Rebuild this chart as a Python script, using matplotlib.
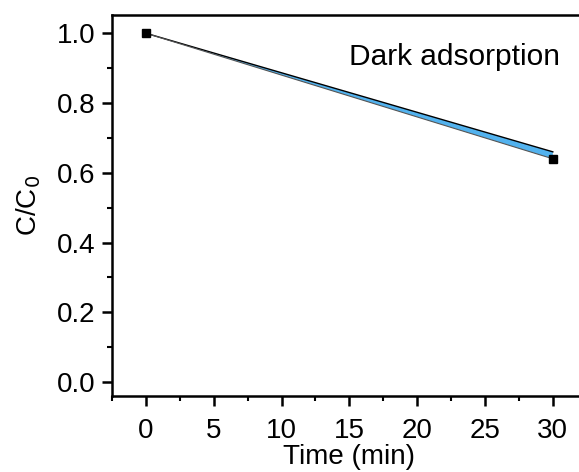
import matplotlib.pyplot as plt
from matplotlib.ticker import MultipleLocator

plt.rcParams['font.family'] = ['Liberation Sans', 'DejaVu Sans']

# data
time_min = [0, 30]
c_ratio = [1.0, 0.64]
c_upper = [1.0, 0.66]

fig = plt.figure(figsize=(5.79, 4.72), dpi=100)
ax = fig.add_axes([0.1934, 0.161, 0.82, 0.807])

# blue ribbon with dark outline
ax.fill_between(time_min, c_ratio, c_upper, facecolor='#52b2ee', edgecolor='none', zorder=2)
ax.plot(time_min, c_upper, color='black', lw=1.0, zorder=3)
ax.plot(time_min, c_ratio, color='#555555', lw=0.8, zorder=3)
ax.plot(time_min, c_ratio, ls='none', marker='s', ms=5.5, color='black', zorder=4)

ax.set_xlim(-2.5, 32.5)
ax.set_ylim(-0.04, 1.052)
ax.xaxis.set_major_locator(MultipleLocator(5))
ax.xaxis.set_minor_locator(MultipleLocator(2.5))
ax.yaxis.set_major_locator(MultipleLocator(0.2))
ax.yaxis.set_minor_locator(MultipleLocator(0.1))

for s in ax.spines.values():
    s.set_linewidth(1.8)
ax.tick_params(which='major', direction='out', length=7, width=1.8, labelsize=20)
ax.tick_params(which='minor', direction='out', length=3.5, width=1.5)
ax.tick_params(axis='x', pad=9)
ax.tick_params(axis='y', pad=5)

ax.set_xlabel('Time (min)', fontsize=20, labelpad=-0.5)
ax.set_ylabel('C/C$_0$', fontsize=20, labelpad=10)
ax.text(0.722, 0.89, 'Dark adsorption', transform=ax.transAxes, fontsize=21.5,
        ha='center', va='center')

fig.savefig('out.png', dpi=100)
